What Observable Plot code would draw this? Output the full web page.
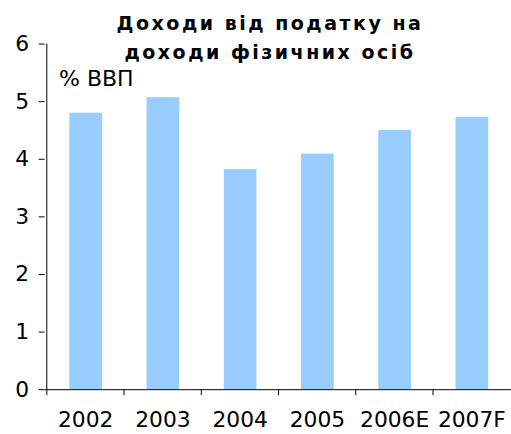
<!DOCTYPE html>
<html><head><meta charset="utf-8">
<script src="https://cdn.jsdelivr.net/npm/d3@7"></script>
<script src="https://cdn.jsdelivr.net/npm/@observablehq/plot@0.6"></script>
<style>
html,body{margin:0;padding:0;background:#fff;overflow:hidden;width:511px;height:434px;}
#wrap{position:relative;width:511px;height:434px;font-family:"DejaVu Sans",Verdana,sans-serif;}
#chart svg{display:block;}
#title{position:absolute;left:0;width:540px;top:9px;text-align:center;font-weight:bold;font-size:19px;line-height:29px;letter-spacing:2.5px;color:#000;}
#unit{position:absolute;left:59px;top:66px;font-size:22px;color:#000;}
</style></head>
<body><div id="wrap"><div id="chart"></div>
<div id="title">Доходи від податку на<br>доходи фізичних осіб</div>
<div id="unit">% ВВП</div></div>
<script>
const categories = ["2002","2003","2004","2005","2006E","2007F"];
const values = [4.80, 5.07, 3.82, 4.09, 4.50, 4.73];
const yTicks = [0,1,2,3,4,5,6];
const data = categories.map((c,i)=>({cat:c, v:values[i]}));

const W = 516, mL = 45;
const step = (W - mL) / categories.length;
const plot = Plot.plot({
  width: W, height: 434,
  marginLeft: mL, marginRight: 0, marginTop: 44, marginBottom: 41,
  style: {fontFamily: '"DejaVu Sans", Verdana, sans-serif', fontSize: "22px", color: "#000", background: "#fff", overflow: "visible"},
  x: {domain: categories, padding: 0, paddingInner: 0, paddingOuter: 0},
  y: {domain: [0, 6]},
  marks: [
    Plot.barY(data, {x: "cat", y: "v", fill: "#99CCFF", insetLeft: 23, insetRight: 22}),
    Plot.axisY({ticks: yTicks, tickSize: 6, tickPadding: 10, tickFormat: d=>String(d), stroke: "#000", fontSize: 22, label: null}),
    Plot.axisX({tickSize: 0, tickPadding: 22, fontSize: 22, label: null}),
    Plot.axisX({tickSize: 6, tickFormat: null, dx: -step/2, label: null, stroke: "#000"}),
    Plot.ruleX([0], {x: () => categories[0], dx: -step/2, y1: 0, y2: 6, stroke: "#000"}),
    Plot.ruleY([0], {stroke: "#000"})
  ]
});
document.getElementById("chart").appendChild(plot);
</script></body></html>
